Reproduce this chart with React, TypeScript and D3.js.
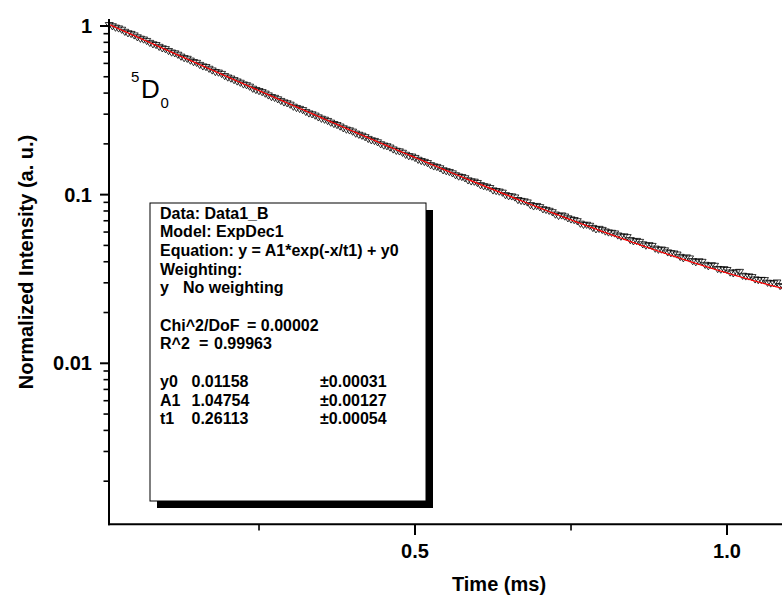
import React from "react";
import * as d3 from "d3";

// ---- data ----
const TIME_MS = [
  0.01, 0.015, 0.02, 0.025, 0.03, 0.035, 0.04, 0.045, 0.05, 0.055,
  0.06, 0.065, 0.07, 0.075, 0.08, 0.085, 0.09, 0.095, 0.1, 0.105,
  0.11, 0.115, 0.12, 0.125, 0.13, 0.135, 0.14, 0.145, 0.15, 0.155,
  0.16, 0.165, 0.17, 0.175, 0.18, 0.185, 0.19, 0.195, 0.2, 0.205,
  0.21, 0.215, 0.22, 0.225, 0.23, 0.235, 0.24, 0.245, 0.25, 0.255,
  0.26, 0.265, 0.27, 0.275, 0.28, 0.285, 0.29, 0.295, 0.3, 0.305,
  0.31, 0.315, 0.32, 0.325, 0.33, 0.335, 0.34, 0.345, 0.35, 0.355,
  0.36, 0.365, 0.37, 0.375, 0.38, 0.385, 0.39, 0.395, 0.4, 0.405,
  0.41, 0.415, 0.42, 0.425, 0.43, 0.435, 0.44, 0.445, 0.45, 0.455,
  0.46, 0.465, 0.47, 0.475, 0.48, 0.485, 0.49, 0.495, 0.5, 0.505,
  0.51, 0.515, 0.52, 0.525, 0.53, 0.535, 0.54, 0.545, 0.55, 0.555,
  0.56, 0.565, 0.57, 0.575, 0.58, 0.585, 0.59, 0.595, 0.6, 0.605,
  0.61, 0.615, 0.62, 0.625, 0.63, 0.635, 0.64, 0.645, 0.65, 0.655,
  0.66, 0.665, 0.67, 0.675, 0.68, 0.685, 0.69, 0.695, 0.7, 0.705,
  0.71, 0.715, 0.72, 0.725, 0.73, 0.735, 0.74, 0.745, 0.75, 0.755,
  0.76, 0.765, 0.77, 0.775, 0.78, 0.785, 0.79, 0.795, 0.8, 0.805,
  0.81, 0.815, 0.82, 0.825, 0.83, 0.835, 0.84, 0.845, 0.85, 0.855,
  0.86, 0.865, 0.87, 0.875, 0.88, 0.885, 0.89, 0.895, 0.9, 0.905,
  0.91, 0.915, 0.92, 0.925, 0.93, 0.935, 0.94, 0.945, 0.95, 0.955,
  0.96, 0.965, 0.97, 0.975, 0.98, 0.985, 0.99, 0.995, 1.0, 1.005,
  1.01, 1.015, 1.02, 1.025, 1.03, 1.035, 1.04, 1.045, 1.05, 1.055,
  1.06, 1.065, 1.07, 1.075, 1.08, 1.085, 1.09,
];

const INTENSITY = [
  1.012, 0.9952, 0.9765, 0.9661, 0.9488, 0.9223, 0.9041, 0.8961, 0.8781, 0.8559,
  0.8397, 0.8306, 0.8142, 0.7931, 0.7779, 0.7703, 0.7512, 0.7362, 0.7281, 0.7098,
  0.6951, 0.6877, 0.6745, 0.6572, 0.6441, 0.6381, 0.6227, 0.6101, 0.6039, 0.5871,
  0.5754, 0.5701, 0.5569, 0.5442, 0.5329, 0.5287, 0.5191, 0.5041, 0.4942, 0.4871,
  0.4771, 0.4682, 0.4601, 0.4497, 0.4449, 0.4361, 0.4241, 0.4168, 0.4108, 0.4049,
  0.3967, 0.3871, 0.3786, 0.3744, 0.3672, 0.3589, 0.3519, 0.3477, 0.3412, 0.3318,
  0.3261, 0.3221, 0.3168, 0.3089, 0.3027, 0.2991, 0.2938, 0.2869, 0.2815, 0.2779,
  0.2731, 0.2669, 0.2619, 0.2583, 0.2531, 0.2471, 0.2427, 0.2402, 0.2361, 0.2298,
  0.2262, 0.2232, 0.2189, 0.2137, 0.2097, 0.2079, 0.2041, 0.1987, 0.1952, 0.1934,
  0.1899, 0.1851, 0.1817, 0.1803, 0.1769, 0.1721, 0.1689, 0.1679, 0.1648, 0.1607,
  0.1581, 0.1562, 0.1537, 0.1494, 0.1469, 0.1458, 0.1431, 0.1393, 0.1376, 0.1361,
  0.1336, 0.1302, 0.1279, 0.1271, 0.1249, 0.1214, 0.1197, 0.1192, 0.1171, 0.1137,
  0.1121, 0.1112, 0.1093, 0.1058, 0.1049, 0.1041, 0.1026, 0.0992, 0.0978, 0.0975,
  0.0961, 0.0928, 0.0917, 0.0911, 0.0898, 0.0866, 0.0851, 0.0856, 0.0842, 0.0818,
  0.0811, 0.0801, 0.0786, 0.0761, 0.0747, 0.0752, 0.0741, 0.0723, 0.0712, 0.0706,
  0.0695, 0.0672, 0.0661, 0.0662, 0.0653, 0.0634, 0.0622, 0.0626, 0.0617, 0.0604,
  0.0596, 0.0593, 0.0588, 0.0572, 0.0563, 0.0565, 0.0559, 0.0537, 0.0528, 0.0531,
  0.0524, 0.0507, 0.0498, 0.0501, 0.0496, 0.0478, 0.0471, 0.0472, 0.0467, 0.0454,
  0.0449, 0.0447, 0.0441, 0.0427, 0.0419, 0.0424, 0.0418, 0.0403, 0.0397, 0.0402,
  0.0399, 0.0383, 0.0376, 0.0381, 0.0378, 0.0362, 0.0359, 0.0361, 0.0357, 0.0345,
  0.0341, 0.0346, 0.0348, 0.033, 0.0327, 0.0327, 0.0324, 0.0314, 0.0311, 0.0312,
  0.0311, 0.03, 0.0297, 0.0298, 0.0301, 0.0287, 0.0283,
];

// fit parameters shown in the legend (ExpDec1)
const FIT_Y0 = 0.01158;
const FIT_A1 = 1.04754;
const FIT_T1 = 0.26113;

const X_MAJOR_TICKS = [0.5, 1.0];
const X_MINOR_TICKS = [0.25, 0.75];
const X_TICK_LABELS = ["0.5", "1.0"];
const Y_MAJOR_TICKS = [1, 0.1, 0.01];
const Y_TICK_LABELS = ["1", "0.1", "0.01"];

const X_DOMAIN = [0.0096, 1.0881];
const Y_DOMAIN = [0.00111, 1.1];

const X_TITLE = "Time (ms)";
const Y_TITLE = "Normalized Intensity (a. u.)";

const LEGEND_LINES: { row: number; cols: string[] }[] = [
  { row: 0, cols: ["Data: Data1_B"] },
  { row: 1, cols: ["Model: ExpDec1"] },
  { row: 2, cols: ["Equation: y = A1*exp(-x/t1) + y0"] },
  { row: 3, cols: ["Weighting:"] },
  { row: 4, cols: ["y", "No weighting"] },
  { row: 6, cols: ["Chi^2/DoF", "= 0.00002"] },
  { row: 7, cols: ["R^2", "=", "0.99963"] },
  { row: 9, cols: ["y0", "0.01158", "\u00b10.00031"] },
  { row: 10, cols: ["A1", "1.04754", "\u00b10.00127"] },
  { row: 11, cols: ["t1", "0.26113", "\u00b10.00054"] },
];

const W = 782;
const H = 599;

export default function App() {
  const x = d3.scaleLinear().domain(X_DOMAIN).range([109, 782]);
  const y = d3.scaleLog().domain(Y_DOMAIN).range([524.3, 19]);

  const fitX = d3.range(X_DOMAIN[0], X_DOMAIN[1] + 0.001, 0.002);
  const fitLine = d3
    .line<number>()
    .x((t) => x(t))
    .y((t) => y(FIT_A1 * Math.exp(-t / FIT_T1) + FIT_Y0));

  const yMinor: number[] = [];
  [-4, -3, -2, -1, 0].forEach((e) => {
    for (let m = 2; m <= 9; m++) {
      const v = m * Math.pow(10, e);
      if (v >= Y_DOMAIN[0] && v <= Y_DOMAIN[1]) yMinor.push(v);
    }
  });

  const tri = "M-4,-2.6L4,-2.6L0,3.6Z";
  const font = "Arial, 'Liberation Sans', Helvetica, sans-serif";

  const colX = (row: { cols: string[] }, i: number) => {
    if (row.cols[0] === "Chi^2/DoF") return [160, 247][i];
    if (row.cols[0] === "R^2") return [160, 199, 214][i];
    if (row.cols[0] === "y") return [160, 183][i];
    return [160, 191.5, 320][i];
  };

  return (
    <div style={{ position: "fixed", left: 0, top: 0 }}>
      <svg width={W} height={H} style={{ display: "block", background: "#fff" }} fontFamily={font}>
        <rect x={0} y={0} width={W} height={H} fill="#fff" />
        {/* legend box with shadow */}
        <rect x={157} y={210} width={276} height={298} fill="#000" />
        <rect x={150} y={203} width={276} height={298} fill="#fff" stroke="#000" strokeWidth={1} />
        {LEGEND_LINES.map((ln) =>
          ln.cols.map((c, i) => (
            <text
              key={ln.row + "-" + i}
              x={colX(ln, i)}
              y={218.5 + ln.row * 18.7}
              fontSize={16}
              fontWeight="bold"
              fill="#000"
            >
              {c}
            </text>
          ))
        )}

        {/* data points */}
        <g fill="none" stroke="#000" strokeWidth={0.8}>
          {TIME_MS.map((t, i) => (
            <path key={i} d={tri} transform={`translate(${x(t)},${y(INTENSITY[i])})`} />
          ))}
        </g>
        {/* fit line */}
        <path d={fitLine(fitX) || ""} fill="none" stroke="#ff0000" strokeWidth={1.2} />

        {/* axes */}
        <line x1={109} x2={109} y1={19} y2={525.3} stroke="#000" strokeWidth={2} />
        <line x1={108} x2={782} y1={524.3} y2={524.3} stroke="#000" strokeWidth={2} />
        {Y_MAJOR_TICKS.map((v, i) => (
          <g key={"ym" + i}>
            <line x1={100} x2={109} y1={y(v)} y2={y(v)} stroke="#000" strokeWidth={2} />
            <text x={92} y={y(v) + 7} textAnchor="end" fontSize={20} fontWeight="bold">
              {Y_TICK_LABELS[i]}
            </text>
          </g>
        ))}
        {yMinor.map((v, i) => (
          <line key={"yn" + i} x1={103.5} x2={109} y1={y(v)} y2={y(v)} stroke="#000" strokeWidth={1.6} />
        ))}
        {X_MAJOR_TICKS.map((v, i) => (
          <g key={"xm" + i}>
            <line x1={x(v)} x2={x(v)} y1={524.3} y2={535} stroke="#000" strokeWidth={2} />
            <text x={x(v)} y={558} textAnchor="middle" fontSize={20} fontWeight="bold">
              {X_TICK_LABELS[i]}
            </text>
          </g>
        ))}
        {X_MINOR_TICKS.map((v, i) => (
          <line key={"xn" + i} x1={x(v)} x2={x(v)} y1={524.3} y2={530.5} stroke="#000" strokeWidth={1.6} />
        ))}

        {/* axis titles */}
        <text x={499} y={591} textAnchor="middle" fontSize={20} fontWeight="bold">
          {X_TITLE}
        </text>
        <text
          transform="translate(33,262) rotate(-90)"
          textAnchor="middle"
          fontSize={20}
          fontWeight="bold"
        >
          {Y_TITLE}
        </text>

        {/* 5D0 annotation */}
        <text x={131} y={82} fontSize={15}>5</text>
        <text x={141} y={98} fontSize={26}>D</text>
        <text x={160.5} y={108} fontSize={15}>0</text>
      </svg>
    </div>
  );
}
